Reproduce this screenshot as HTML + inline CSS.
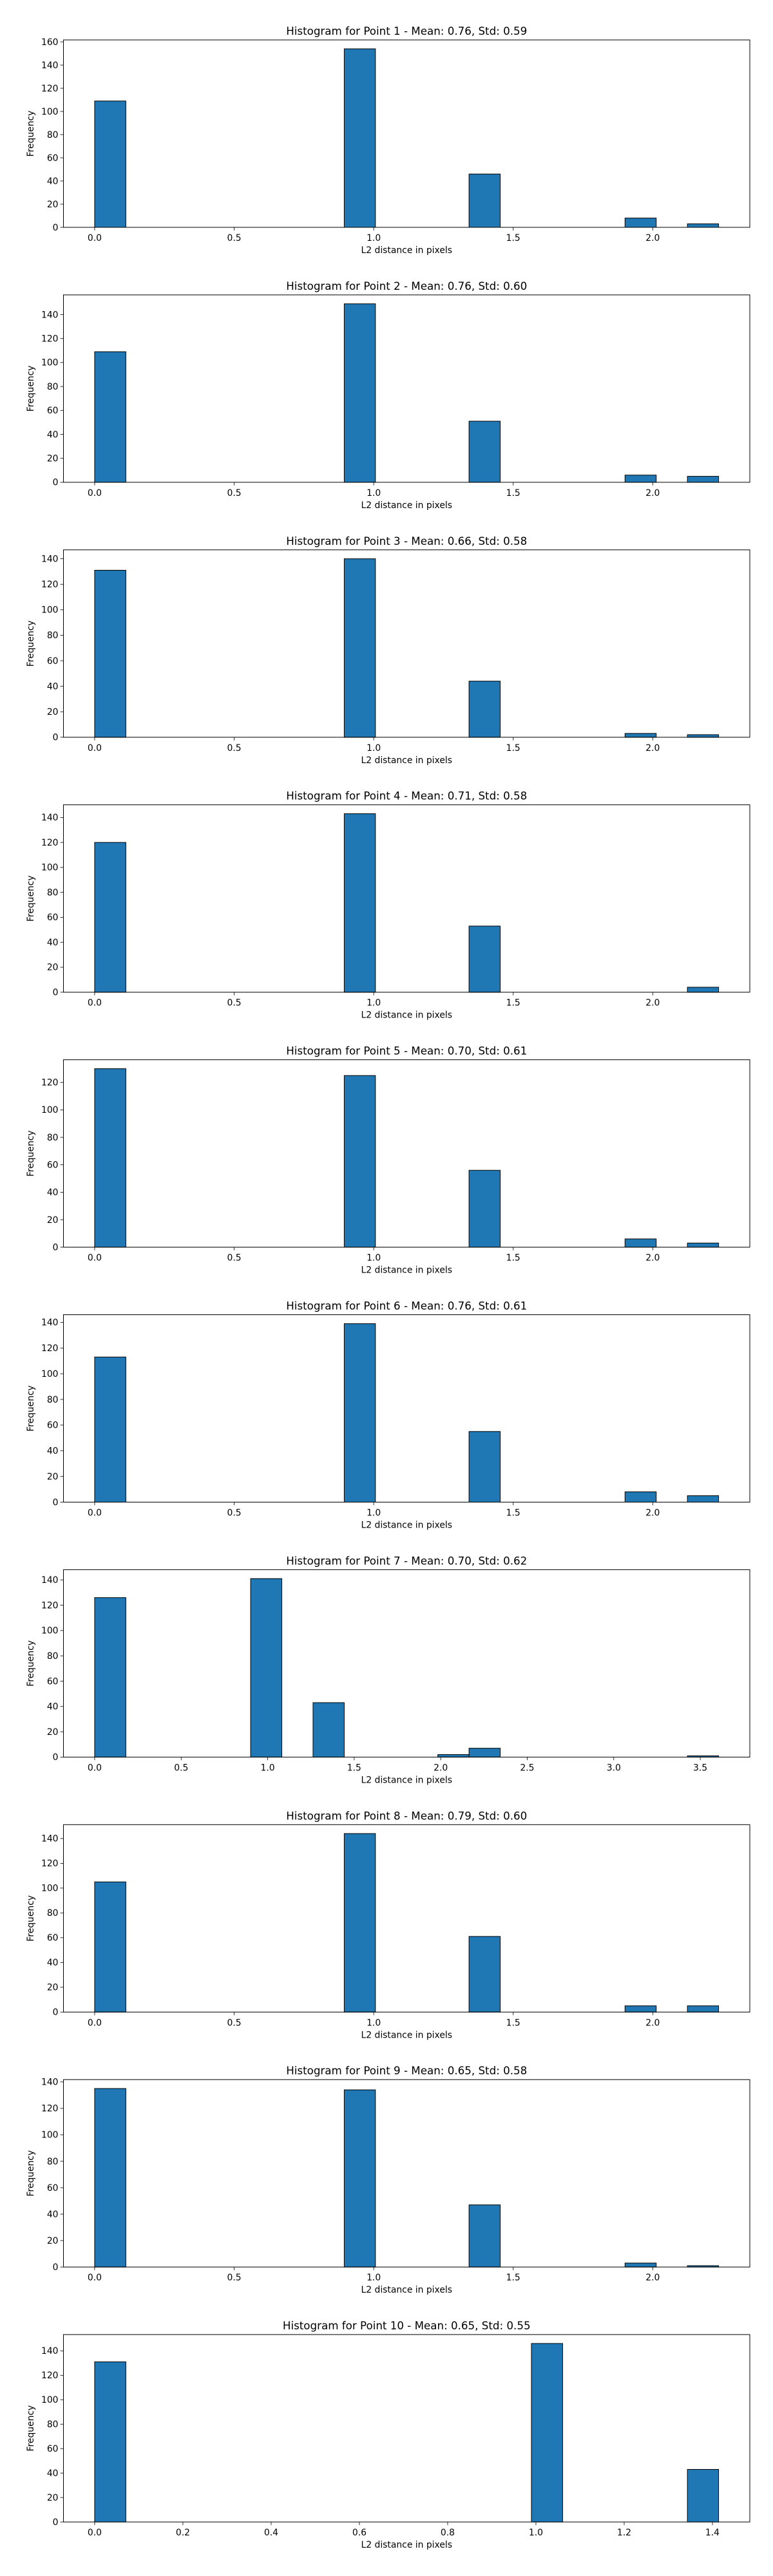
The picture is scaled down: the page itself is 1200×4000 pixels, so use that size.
<!DOCTYPE html>
<html><head><meta charset="utf-8"><style>
html,body{margin:0;padding:0;background:#fff;}
svg{display:block;font-family:"DejaVu Sans","Liberation Sans",sans-serif;}
</style></head>
<body>
<svg id="fig" width="1200" height="4000" viewBox="0 0 1200 4000" xmlns="http://www.w3.org/2000/svg"></svg>
<script>
const titles = ["Histogram for Point 1 - Mean: 0.76, Std: 0.59","Histogram for Point 2 - Mean: 0.76, Std: 0.60","Histogram for Point 3 - Mean: 0.66, Std: 0.58","Histogram for Point 4 - Mean: 0.71, Std: 0.58","Histogram for Point 5 - Mean: 0.70, Std: 0.61","Histogram for Point 6 - Mean: 0.76, Std: 0.61","Histogram for Point 7 - Mean: 0.70, Std: 0.62","Histogram for Point 8 - Mean: 0.79, Std: 0.60","Histogram for Point 9 - Mean: 0.65, Std: 0.58","Histogram for Point 10 - Mean: 0.65, Std: 0.55"];
const maxDist = [2.236,2.236,2.236,2.236,2.236,2.236,3.606,2.236,2.236,1.414];
const distances = [
 [0,1,1.414,2,2.236],[0,1,1.414,2,2.236],[0,1,1.414,2,2.236],[0,1,1.414,2.236],[0,1,1.414,2,2.236],
 [0,1,1.414,2,2.236],[0,1,1.414,2,2.236,3.606],[0,1,1.414,2,2.236],[0,1,1.414,2,2.236],[0,1,1.414]];
const counts = [
 [109,154,46,8,3],[109,149,51,6,5],[131,140,44,3,2],[120,143,53,4],[130,125,56,6,3],
 [113,139,55,8,5],[126,141,43,2,7,1],[105,144,61,5,5],[135,134,47,3,1],[131,146,43]];
const xTickStep = [0.5,0.5,0.5,0.5,0.5,0.5,0.5,0.5,0.5,0.2];
const yTickStep = [20,20,20,20,20,20,20,20,20,20];

const NS="http://www.w3.org/2000/svg";
const svg=document.getElementById('fig');
function mk(tag,attrs,parent){const e=document.createElementNS(NS,tag);for(const k in attrs)e.setAttribute(k,attrs[k]);(parent||svg).appendChild(e);return e;}
const L=98.5,R=1164,H=291,PERIOD=395.9,TOP0=62,NB=20;

for(let i=0;i<titles.length;i++){
  const top=TOP0+i*PERIOD,bot=top+H;
  const g=mk('g',{});
  
  
  const mx=maxDist[i];
  const x0=-0.05*mx,x1=1.05*mx;
  const bins=new Array(NB).fill(0);
  distances[i].forEach((d,j)=>{let b=Math.floor(d/mx*NB);if(b>=NB)b=NB-1;bins[b]+=counts[i][j];});
  const ymax=Math.max(...bins)*1.05;
  const sx=v=>L+(v-x0)/(x1-x0)*(R-L);
  const sy=v=>bot-v/ymax*H;
  const bw=mx/NB;
  for(let b=0;b<NB;b++){
    const r=mk('rect',{x:sx(b*bw),y:sy(bins[b]),width:sx((b+1)*bw)-sx(b*bw),height:bot-sy(bins[b]),fill:'#1f77b4',stroke:'#000','stroke-width':1},g);
    
    
  }
  const fr=mk('rect',{x:L,y:top,width:R-L,height:H,fill:'none',stroke:'#000','stroke-width':1},g);
  
  
  for(let v=0;v<=ymax+1e-9;v+=yTickStep[i]){
    const y=sy(v);
    mk('line',{x1:L-4.9,x2:L,y1:y,y2:y,stroke:'#000','stroke-width':0.8},g);
    const t=mk('text',{x:L-8,y:y+4.8,'text-anchor':'end','font-size':13.9,fill:'#000'},g);
    t.textContent=String(Math.round(v));
    
    
  }
  const st=xTickStep[i];
  for(let k=0;k*st<=x1+1e-9;k++){
    const v=k*st,x=sx(v);
    mk('line',{x1:x,x2:x,y1:bot,y2:bot+4.9,stroke:'#000','stroke-width':0.8},g);
    const t=mk('text',{x:x,y:bot+21,'text-anchor':'middle','font-size':13.9,fill:'#000'},g);
    t.textContent=v.toFixed(1);
    
    
  }
  const tt=mk('text',{x:(L+R)/2,y:top-8,'text-anchor':'middle','font-size':16.7,fill:'#000'},g);
  tt.textContent=titles[i];
  
  
  const xl=mk('text',{x:(L+R)/2,y:bot+40,'text-anchor':'middle','font-size':13.9,fill:'#000'},g);
  xl.textContent='L2 distance in pixels';
  
  
  const yc=top+H/2;
  const yl=mk('text',{x:52,y:yc,'text-anchor':'middle','font-size':13.9,fill:'#000',transform:'rotate(-90 52 '+yc+')'},g);
  yl.textContent='Frequency';
  
  
}
</script>
</body></html>
